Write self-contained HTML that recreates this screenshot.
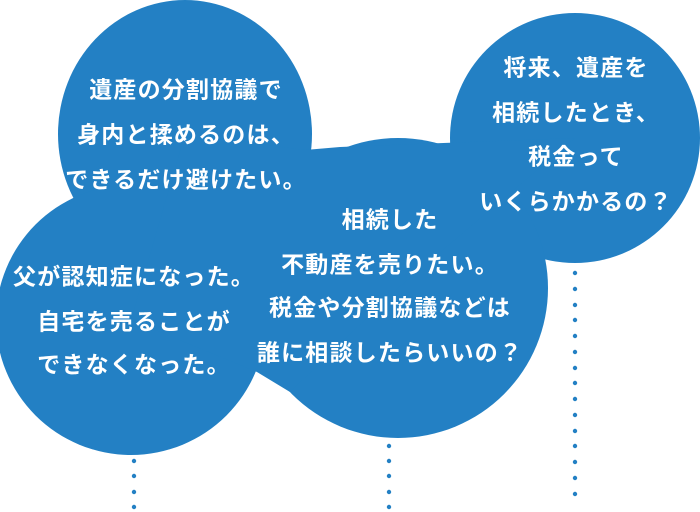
<!DOCTYPE html>
<html><head><meta charset="utf-8"><style>
html,body{margin:0;padding:0;background:#fff;}
body{width:700px;height:512px;position:relative;overflow:hidden;font-family:"Liberation Sans","Noto Sans CJK JP",sans-serif;}
.t{position:absolute;color:#fff;font-size:23px;font-weight:bold;letter-spacing:1.2px;text-align:center;white-space:nowrap;transform:translate(-50%,-50%);line-height:1;}
</style></head><body>
<svg width="700" height="512" style="position:absolute;left:0;top:0">
<g fill="#2380c4">
<ellipse cx="185" cy="134" rx="127" ry="134"/>
<circle cx="575" cy="138" r="125"/>
<circle cx="131" cy="320" r="135"/>
<circle cx="398" cy="288" r="150"/>
<polygon points="185,134 305,150 340,147 575,138 398,288 290,392 257,372 131,320"/>
</g>
<g fill="#2380c4">
<circle cx="134" cy="461" r="2.2"/><circle cx="134" cy="476" r="2.2"/><circle cx="134" cy="492" r="2.2"/><circle cx="134" cy="507" r="2.2"/>
<circle cx="389" cy="446" r="2.2"/><circle cx="389" cy="461" r="2.2"/><circle cx="389" cy="476" r="2.2"/><circle cx="389" cy="492" r="2.2"/><circle cx="389" cy="507" r="2.2"/>
<circle cx="575" cy="273" r="2.2"/><circle cx="575" cy="289" r="2.2"/><circle cx="575" cy="305" r="2.2"/><circle cx="575" cy="320" r="2.2"/><circle cx="575" cy="336" r="2.2"/><circle cx="575" cy="352" r="2.2"/><circle cx="575" cy="368" r="2.2"/><circle cx="575" cy="383" r="2.2"/><circle cx="575" cy="399" r="2.2"/><circle cx="575" cy="415" r="2.2"/><circle cx="575" cy="431" r="2.2"/><circle cx="575" cy="446" r="2.2"/><circle cx="575" cy="462" r="2.2"/><circle cx="575" cy="478" r="2.2"/><circle cx="575" cy="494" r="2.2"/>
</g>
</svg>
<div class="t" style="left:186px;top:90px">遺産の分割協議で</div>
<div class="t" style="left:186px;top:135px">身内と揉めるのは、</div>
<div class="t" style="left:186px;top:180px">できるだけ避けたい。</div>

<div class="t" style="left:576px;top:68px">将来、遺産を</div>
<div class="t" style="left:576px;top:113px">相続したとき、</div>
<div class="t" style="left:576px;top:157px">税金って</div>
<div class="t" style="left:576px;top:202px">いくらかかるの？</div>

<div class="t" style="left:134px;top:277px">父が認知症になった。</div>
<div class="t" style="left:134px;top:322px">自宅を売ることが</div>
<div class="t" style="left:134px;top:365px">できなくなった。</div>

<div class="t" style="left:390px;top:220px">相続した</div>
<div class="t" style="left:390px;top:265px">不動産を売りたい。</div>
<div class="t" style="left:390px;top:308px">税金や分割協議などは</div>
<div class="t" style="left:390px;top:353px">誰に相談したらいいの？</div>
</body></html>
